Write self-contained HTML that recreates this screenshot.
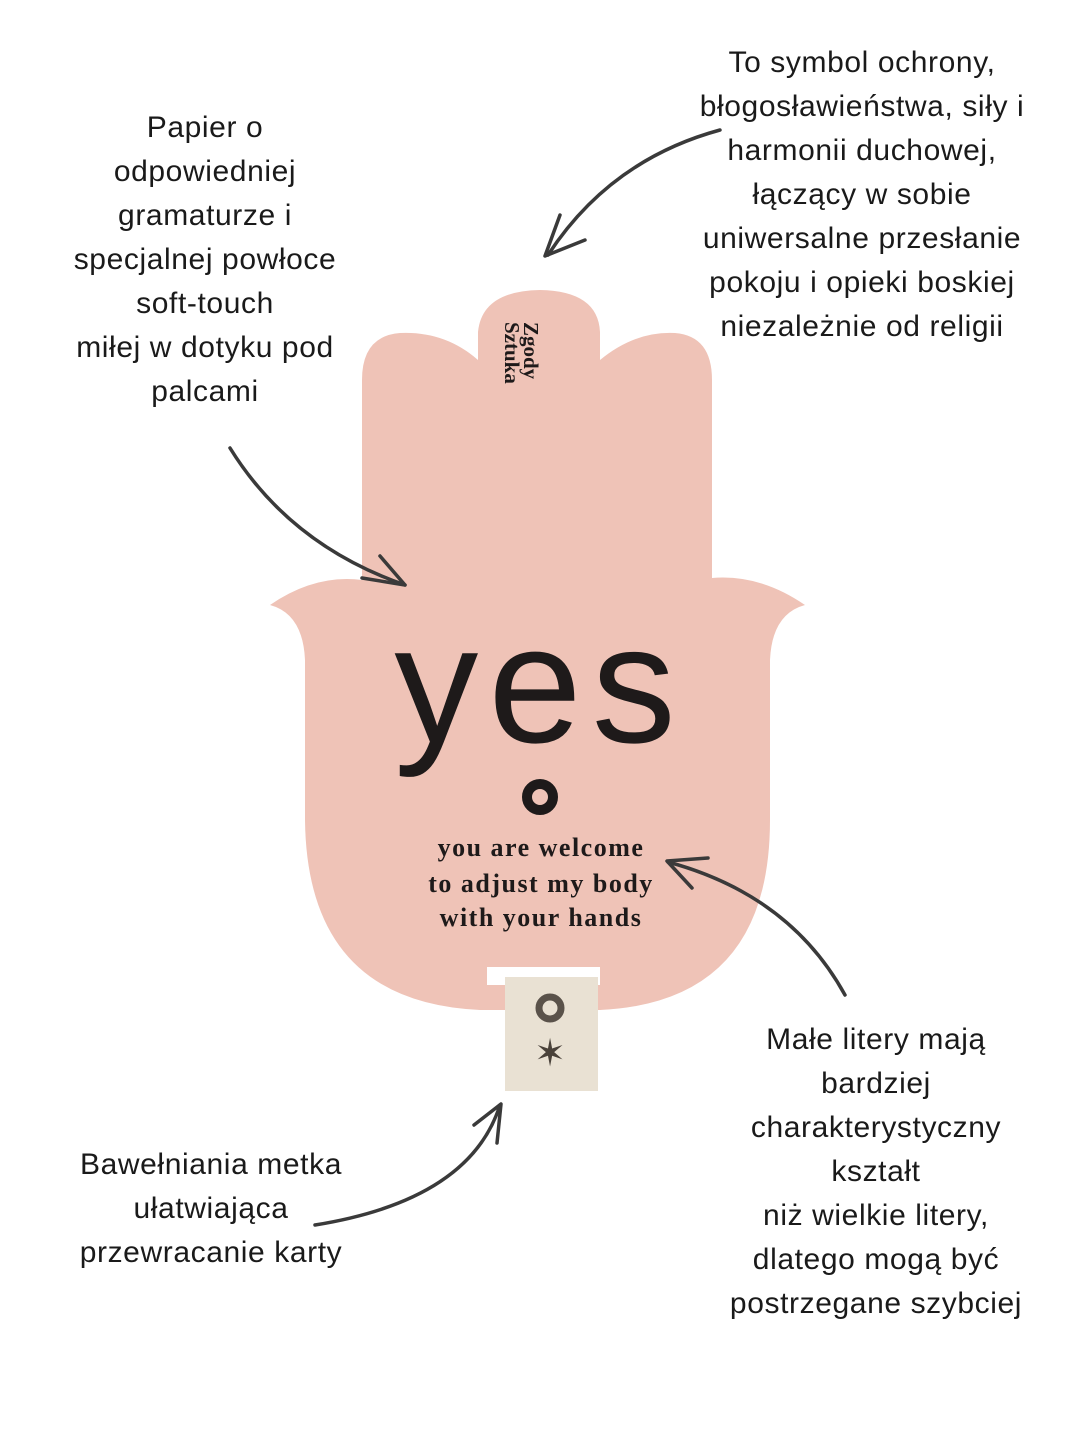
<!DOCTYPE html>
<html><head><meta charset="utf-8"><style>
html,body{margin:0;padding:0;background:#fff;}
body{width:1080px;height:1440px;position:relative;overflow:hidden;font-family:"Liberation Sans",sans-serif;}
.t{position:absolute;text-align:center;font-size:30px;letter-spacing:0.6px;line-height:44px;color:#1a1a1a;}
</style></head><body>
<svg width="1080" height="1440" style="position:absolute;left:0;top:0">
<path d="M362 580 L362 380 Q362 336 400 333 Q445 331 478 360 L478 332 Q482 291 540 290 Q598 291 600 332 L600 360 Q635 331 675 333 Q712 336 712 380 L712 578 Q760 574 805 605 Q772 614 770 660 L770 820 Q770 1002 600 1010 L480 1010 Q307 1002 305 820 L305 660 Q303 614 270 605 Q315 574 362 580 Z" fill="#efc3b7"/>
<rect x="487" y="967" width="113" height="18" fill="#fff"/>
<rect x="505" y="977" width="93" height="114" fill="#e9e1d3"/>
<circle cx="550" cy="1008" r="11" fill="none" stroke="#5a524a" stroke-width="7"/>
<text x="550" y="1066" font-size="38" text-anchor="middle" fill="#4a423a">✶</text>
<text x="540" y="742" font-size="168" letter-spacing="10" text-anchor="middle" fill="#1e1a1a" font-family="Liberation Sans">yes</text>
<circle cx="540" cy="797" r="13" fill="none" stroke="#1e1a1a" stroke-width="10"/>
<g font-family="Liberation Serif" font-weight="bold" font-size="26" letter-spacing="1.5" fill="#1e1a1a" text-anchor="middle">
<text x="541" y="856">you are welcome</text>
<text x="541" y="892">to adjust my body</text>
<text x="541" y="926">with your hands</text>
</g>
<g transform="translate(518,322) rotate(90)" font-family="Liberation Serif" font-weight="bold" font-size="21" fill="#1e1a1a">
<text x="0" y="-6">Zgody</text>
<text x="0" y="13">Sztuka</text>
</g>
<g fill="none" stroke="#3a3a3a" stroke-width="3.5" stroke-linecap="round" stroke-linejoin="round">
<path d="M720 130 Q610 160 548 255"/>
<path d="M560 215 L545 256 L585 240"/>
<path d="M230 448 Q290 545 405 585"/>
<path d="M380 556 L405 585 L362 578"/>
<path d="M845 995 Q790 895 668 862"/>
<path d="M692 888 L667 861 L708 858"/>
<path d="M315 1225 Q470 1200 500 1105"/>
<path d="M474 1125 L501 1104 L497 1143"/>
</g>
</svg>
<div class="t" style="left:30px;width:350px;top:106px">Papier o<br>odpowiedniej<br>gramaturze i<br>specjalnej powłoce<br>soft-touch<br>miłej w dotyku pod<br>palcami</div>
<div class="t" style="left:670px;width:384px;top:41px">To symbol ochrony,<br>błogosławieństwa, siły i<br>harmonii duchowej,<br>łączący w sobie<br>uniwersalne przesłanie<br>pokoju i opieki boskiej<br>niezależnie od religii</div>
<div class="t" style="left:690px;width:372px;top:1018px">Małe litery mają<br>bardziej<br>charakterystyczny<br>kształt<br>niż wielkie litery,<br>dlatego mogą być<br>postrzegane szybciej</div>
<div class="t" style="left:30px;width:362px;top:1143px">Bawełniania metka<br>ułatwiająca<br>przewracanie karty</div>
</body></html>
